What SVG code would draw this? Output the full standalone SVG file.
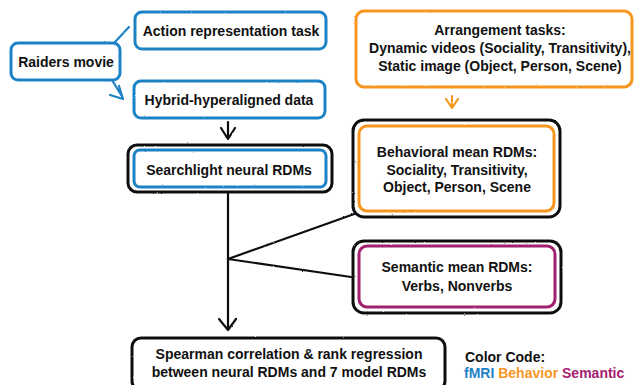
<svg xmlns="http://www.w3.org/2000/svg" width="637" height="385" viewBox="0 0 637 385">
<defs>
<filter id="rough" x="-5%" y="-5%" width="110%" height="110%">
<feTurbulence type="fractalNoise" baseFrequency="0.9" numOctaves="2" seed="3" result="n"/>
<feDisplacementMap in="SourceGraphic" in2="n" scale="1.6" xChannelSelector="R" yChannelSelector="G"/>
</filter>
</defs>
<style>
.b{fill:#fff;stroke-width:3;stroke-linejoin:round;filter:url(#rough)}
.blue{stroke:#1f82c6}
.orange{stroke:#f7961f}
.purple{stroke:#a3216f}
.black{stroke:#111}
.ln{fill:none;stroke:#111;stroke-width:2.2;stroke-linecap:round;stroke-linejoin:round;filter:url(#rough)}
text{font-family:"Liberation Sans",Arial,sans-serif;font-weight:bold;font-size:14px;fill:#111;text-anchor:middle}
</style>
<rect width="637" height="385" fill="#fff"/>
<g id="connectors">
<path class="ln" d="M115 42 L129 27" stroke="#1f82c6" style="stroke:#1f82c6"/>
<path class="ln" d="M112 80 L123 98 M110 95 L123 99 L119 86" style="stroke:#1f82c6"/>
<path class="ln" d="M228 122 L228 139 M221 128 L228 139 L235 128"/>
<path class="ln" d="M452 96 L452 108 M446 99 L452 108 L458 99" style="stroke:#f7961f"/>
<path class="ln" d="M228 193 L228 330 M219 319 L228 330 L236 319"/>
<path class="ln" d="M228 259 L357 213"/>
<path class="ln" d="M228 259 L351 277"/>
</g>
<g id="action">
<rect class="b blue" x="135" y="12" width="191" height="37" rx="7"/>
<text x="231" y="36">Action representation task</text>
</g>
<g id="raiders">
<rect class="b blue" x="11" y="43" width="109" height="37" rx="7"/>
<text x="66" y="67">Raiders movie</text>
</g>
<g id="hybrid">
<rect class="b blue" x="134" y="81" width="191" height="37" rx="7"/>
<text x="229" y="105">Hybrid-hyperaligned data</text>
</g>
<g id="searchlight">
<rect class="b black" x="128" y="145" width="204" height="47" rx="9"/>
<rect class="b blue" x="134" y="150" width="192" height="37" rx="6"/>
<text x="229" y="175">Searchlight neural RDMs</text>
</g>
<g id="arrangement">
<rect class="b orange" x="356" y="11" width="276" height="76" rx="8"/>
<text x="500" y="35">Arrangement tasks:</text>
<text x="500" y="53">Dynamic videos (Sociality, Transitivity),</text>
<text x="500" y="71">Static image (Object, Person, Scene)</text>
</g>
<g id="behavioral">
<rect class="b black" x="353" y="120" width="207" height="97" rx="11"/>
<rect class="b orange" x="359" y="126" width="195" height="85" rx="8"/>
<text x="457" y="157">Behavioral mean RDMs:</text>
<text x="457" y="175">Sociality, Transitivity,</text>
<text x="457" y="192">Object, Person, Scene</text>
</g>
<g id="semantic">
<rect class="b black" x="353" y="241" width="208" height="72" rx="11"/>
<rect class="b purple" x="359" y="246" width="196" height="61" rx="8"/>
<text x="457" y="272">Semantic mean RDMs:</text>
<text x="457" y="291">Verbs, Nonverbs</text>
</g>
<g id="spearman">
<rect class="b black" x="132" y="338" width="313" height="52" rx="9"/>
<text x="289" y="359">Spearman correlation &amp; rank regression</text>
<text x="289" y="377">between neural RDMs and 7 model RDMs</text>
</g>
<g id="legend">
<text x="465" y="362" style="text-anchor:start">Color Code:</text>
<text x="464" y="378" style="text-anchor:start"><tspan fill="#1f82c6">fMRI</tspan> <tspan fill="#f7961f">Behavior</tspan> <tspan fill="#a3216f">Semantic</tspan></text>
</g>
</svg>
